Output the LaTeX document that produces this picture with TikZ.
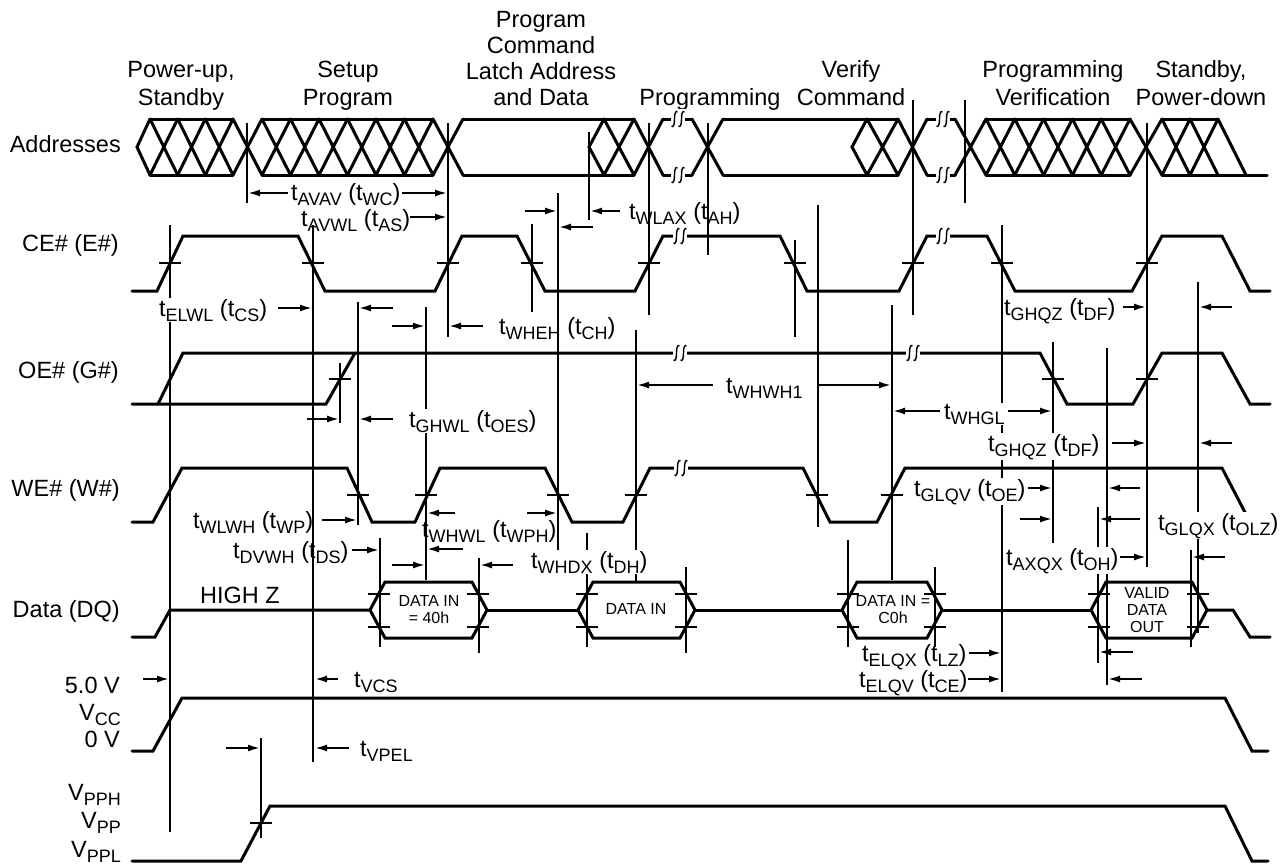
\documentclass[tikz,border=0pt]{standalone}
\usepackage{fontspec}
\setmainfont{Liberation Sans}
\usetikzlibrary{arrows.meta}

\newcommand\tsb[1]{\raisebox{-5pt}{\fontsize{18}{18}\selectfont #1}}
% crossed (don't care) part of the address bus
\newcommand\hatch[3]{%
  \foreach \k in {1,...,#3}{%
    \draw[sig] (#1+\k*#2-#2,119) -- (#1+\k*#2,175) (#1+\k*#2-#2,175) -- (#1+\k*#2,119);}}
% break mark on a line
\newcommand\brk[2]{%
  \fill[white] (#1-7,#2-10) rectangle (#1+7,#2+10);
  \draw[line width=1.4pt] (#1-6.5,#2+7) .. controls (#1-4.5,#2+9) and (#1-3.5,#2+5) .. (#1-3.5,#2)
     .. controls (#1-3.5,#2-5) and (#1-2.5,#2-9) .. (#1-0.5,#2-7);
  \draw[line width=1.4pt] (#1+0.5,#2+7) .. controls (#1+2.5,#2+9) and (#1+3.5,#2+5) .. (#1+3.5,#2)
     .. controls (#1+3.5,#2-5) and (#1+4.5,#2-9) .. (#1+6.5,#2-7);}

\begin{document}
\begin{tikzpicture}[x=1pt,y=-1pt,>={Latex[length=12pt,width=7pt]},
  font=\fontsize{23.5}{27.5}\selectfont,
  sig/.style={line width=3pt,line cap=round},
  refl/.style={line width=2pt},
  tk/.style={line width=2pt},
  tarr/.style={->,line width=1.8pt},
  tlbl/.style={inner sep=1pt,anchor=base west},
  knock/.style={fill=white},
  rowlbl/.style={anchor=base east,inner sep=0pt},
  phase/.style={align=center,anchor=base,inner sep=0pt},
  dbox/.style={font=\fontsize{16}{17}\selectfont,align=center,inner sep=0pt}]
\useasboundingbox (0,0) rectangle (1288,865);

% phases
\node[phase] (hpwr)   at (181,105)  {Power-up,\\Standby};
\node[phase] (hsetup) at (348,105)  {Setup\\Program};
\node[phase,font=\fontsize{23.5}{26}\selectfont] (hlatch) at (541,105)
  {Program\\Command\\Latch Address\\and Data};
\node[phase] (hprog)  at (710,105)  {Programming};
\node[phase] (hverc)  at (851,105)  {Verify\\Command};
\node[phase] (hverif) at (1053,105) {Programming\\Verification};
\node[phase] (hstby)  at (1201,105) {Standby,\\Power-down};

% signal names
\node[rowlbl] (laddr) at (121,152) {Addresses};
\node[rowlbl] (lce)   at (119,251) {CE\# (E\#)};
\node[rowlbl] (loe)   at (119,378) {OE\# (G\#)};
\node[rowlbl] (lwe)   at (120,496) {WE\# (W\#)};
\node[rowlbl] (ldq)   at (120,617) {Data (DQ)};
\node[rowlbl] (l5v)   at (120,693) {5.0 V};
\node[rowlbl] (lvcc)  at (121,720) {V\tsb{CC}};
\node[rowlbl] (l0v)   at (120,747) {0 V};
\node[rowlbl] (lvpph) at (121,800) {V\tsb{PPH}};
\node[rowlbl] (lvpp)  at (121,828) {V\tsb{PP}};
\node[rowlbl] (lvppl) at (121,857) {V\tsb{PPL}};

% reference lines
\foreach \x/\a/\b in {170/225/832, 247/123/203, 313/225/762, 340/363/423, 358/302/525,
    380/538/647, 426/307/580, 448/123/337, 479/558/653, 532/224/312, 558/193/550,
    589/132/220, 587/533/647, 636/330/582, 649/123/315, 686/567/653, 708/123/255,
    795/240/337, 818/205/527, 848/540/647, 892/305/580, 913/100/315, 935/567/647,
    965/100/203, 1002/225/692, 1053/342/543, 1098/507/663, 1107/348/685,
    1147/123/567, 1191/550/647, 1198/282/633, 261/738/838}
  \draw[refl] (\x,\a) -- (\x,\b);

% Addresses
\draw[sig] (150,119) -- (137,147) -- (150,175);
\draw[sig] (150,119) -- (233,119) (150,175) -- (233,175);
\hatch{150}{27.67}{3}
\draw[sig] (233,119) -- (262,175) (233,175) -- (262,119);
\draw[sig] (262,119) -- (433,119) (262,175) -- (433,175);
\hatch{262}{28.5}{6}
\draw[sig] (433,119) -- (463,175) (433,175) -- (463,119);
\draw[sig] (463,119) -- (634,119) (463,175) -- (634,175);
\draw[sig] (604,119) -- (589,147) -- (604,175);
\hatch{604}{30}{1}
\draw[sig] (634,119) -- (663,175) (634,175) -- (663,119);
\draw[sig] (663,119) -- (692,119) (663,175) -- (692,175);
\draw[sig] (692,119) -- (723,175) (692,175) -- (723,119);
\draw[sig] (723,119) -- (898,119) (723,175) -- (898,175);
\draw[sig] (867,119) -- (852,147) -- (867,175);
\hatch{867}{31}{1}
\draw[sig] (898,119) -- (927,175) (898,175) -- (927,119);
\draw[sig] (927,119) -- (955,119) (927,175) -- (955,175);
\draw[sig] (955,119) -- (986,175) (955,175) -- (986,119);
\draw[sig] (986,119) -- (1130,119) (986,175) -- (1130,175);
\hatch{986}{28.8}{5}
\draw[sig] (1130,119) -- (1162,175) (1130,175) -- (1162,119);
\draw[sig] (1162,119) -- (1218,119) (1162,175) -- (1267,175);
\hatch{1162}{28}{2}
\draw[sig] (1218,119) -- (1246,175);
\brk{678}{119} \brk{678}{175} \brk{943}{119} \brk{943}{175}

% CE#
\draw[sig] (132,291) -- (157,291) -- (183,236) -- (298,236) -- (325,291) -- (435,291)
  -- (462,236) -- (517,236) -- (545,291) -- (635,291) -- (663,236) -- (780,236)
  -- (807,291) -- (899,291) -- (927,236) -- (987,236) -- (1015,291) -- (1132,291)
  -- (1162,236) -- (1222,236) -- (1250,291) -- (1270,291);
\brk{680}{236} \brk{943}{236}

% OE#
\draw[sig] (132,404) -- (326,404) -- (355,353);
\draw[sig] (158,404) -- (183,353) -- (1040,353) -- (1067,404) -- (1133,404)
  -- (1162,353) -- (1222,353) -- (1250,404) -- (1270,404);
\brk{680}{353} \brk{913}{353}

% WE#
\draw[sig] (132,522) -- (153,522) -- (182,468) -- (347,468) -- (372,522) -- (415,522)
  -- (440,468) -- (545,468) -- (572,522) -- (623,522) -- (650,468) -- (803,468)
  -- (830,522) -- (877,522) -- (905,468) -- (1222,468) -- (1250,522) -- (1270,522);
\brk{681}{468}

% Data
\draw[sig] (132,637) -- (155,637) -- (170,610) -- (370,610);
\draw[sig] (487,610) -- (578,610) (695,610) -- (842,610) (942,610) -- (1091,610);
\draw[sig] (1207,610) -- (1233,610) -- (1250,637) -- (1270,637);
\foreach \l/\r in {370/487, 578/695, 842/942, 1091/1207}
  \draw[sig] (\l,610) -- (\l+15,582) -- (\r-15,582) -- (\r,610) -- (\r-15,638) -- (\l+15,638) -- cycle;
\node[anchor=base west,inner sep=0pt] (hiz) at (200,603) {HIGH Z};
\node[dbox] (din1) at (429,610) {DATA IN\\= 40h};
\node[dbox] (din2) at (636,609) {DATA IN};
\node[dbox] (din3) at (893,610) {DATA IN =\\C0h};
\node[dbox] (dout) at (1147,610) {VALID\\DATA\\OUT};

% VCC and VPP
\draw[sig] (132,751) -- (153,751) -- (182,698) -- (1225,698) -- (1252,751) -- (1268,751);
\draw[sig] (132,861) -- (241,861) -- (270,806) -- (1225,806) -- (1252,861) -- (1268,861);

% crossing marks
\foreach \x in {170,313,448,532,649,795,913,1002,1147} \draw[tk] (\x-11,263) -- (\x+11,263);
\foreach \x in {340,1053,1147} \draw[tk] (\x-11,379) -- (\x+11,379);
\foreach \x in {358,426,558,636,817,892} \draw[tk] (\x-11,495) -- (\x+11,495);
\foreach \x in {379,478,587,686,848,935,1099,1198}
  \draw[tk] (\x-11,594) -- (\x+11,594) (\x-11,627) -- (\x+11,627);
\draw[tk] (250,823) -- (272,823);

% timing names
\node[tlbl] (tavav) at (290,200) {t\tsb{AVAV} (t\tsb{WC})};
\node[tlbl] (tavwl) at (300,226) {t\tsb{AVWL} (t\tsb{AS})};
\node[tlbl] (twlax) at (628,219) {t\tsb{WLAX} (t\tsb{AH})};
\node[tlbl,knock] (telwl) at (158,316) {t\tsb{ELWL} (t\tsb{CS})};
\node[tlbl] (twheh) at (498,334) {t\tsb{WHEH} (t\tsb{CH})};
\node[tlbl,knock] (tghwl) at (408,427) {t\tsb{GHWL} (t\tsb{OES})};
\node[tlbl] (twhwh) at (725,393) {t\tsb{WHWH1}};
\node[tlbl,knock] (twhgl) at (943,419) {t\tsb{WHGL}};
\node[tlbl,knock] (tghqza) at (1003,315) {t\tsb{GHQZ} (t\tsb{DF})};
\node[tlbl,knock] (tghqzb) at (987,451) {t\tsb{GHQZ} (t\tsb{DF})};
\node[tlbl] (twlwh) at (192,528) {t\tsb{WLWH} (t\tsb{WP})};
\node[tlbl] (twhwl) at (421,537) {t\tsb{WHWL} (t\tsb{WPH})};
\node[tlbl] (tdvwh) at (232,558) {t\tsb{DVWH} (t\tsb{DS})};
\node[tlbl,knock] (twhdx) at (530,568) {t\tsb{WHDX} (t\tsb{DH})};
\node[tlbl,knock] (tglqv) at (913,496) {t\tsb{GLQV} (t\tsb{OE})};
\node[tlbl,knock] (tglqx) at (1157,530) {t\tsb{GLQX} (t\tsb{OLZ})};
\node[tlbl,knock] (taxqx) at (1005,565) {t\tsb{AXQX} (t\tsb{OH})};
\node[tlbl] (telqx) at (861,661) {t\tsb{ELQX} (t\tsb{LZ})};
\node[tlbl] (telqv) at (858,687) {t\tsb{ELQV} (t\tsb{CE})};
\node[tlbl] (tvcs)  at (353,687) {t\tsb{VCS}};
\node[tlbl] (tvpel) at (359,756) {t\tsb{VPEL}};

% arrows
\foreach \a/\b/\y in {288/248/193, 402/447/193, 410/447/217, 525/557/211, 620/590/211,
    593/559/227, 278/312/308, 393/359/308, 392/425/326, 483/449/326, 307/339/419,
    393/359/419, 713/637/385, 817/891/385, 940/893/411, 1008/1052/411, 1123/1146/307,
    1232/1199/307, 1112/1146/443, 1232/1199/443, 322/357/520, 455/427/513, 527/557/513,
    352/379/550, 463/427/549, 392/425/565, 513/480/565, 1028/1052/488, 1140/1108/488,
    1020/1052/519, 1140/1099/519, 1120/1146/557, 1225/1192/557, 1133/1099/652,
    969/1001/653, 968/1001/679, 1142/1108/679, 338/315/679, 143/169/679,
    226/260/748, 349/315/748}
  \draw[tarr] (\a,\y) -- (\b,\y);
\end{tikzpicture}
\end{document}
